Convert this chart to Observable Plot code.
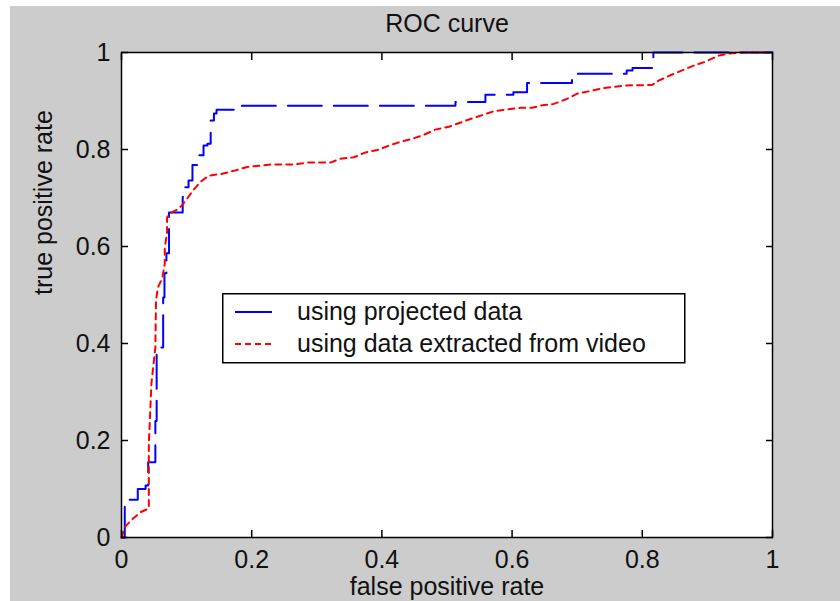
<!DOCTYPE html>
<html>
<head>
<meta charset="utf-8">
<script src="https://cdn.jsdelivr.net/npm/d3@7"></script>
<script src="https://cdn.jsdelivr.net/npm/@observablehq/plot@0.6"></script>
<style>
  html, body { margin: 0; padding: 0; background: #ffffff; overflow: hidden; }
  #wrap { position: relative; width: 840px; height: 601px; overflow: hidden; background: #ffffff; }
  #chart { position: absolute; left: 10px; top: 6px; }
  #legend { position: absolute; left: 222px; top: 293px; }
</style>
</head>
<body>
<div id="wrap">
  <div id="chart"></div>
  <svg id="legend" width="464" height="71"></svg>
</div>
<script>
// ---- data ----
const titleText = "ROC curve";
const xLabel = "false positive rate";
const yLabel = "true positive rate";
const xTicks = [0, 0.2, 0.4, 0.6, 0.8, 1];
const yTicks = [0, 0.2, 0.4, 0.6, 0.8, 1];
const seriesNames = ["using projected data", "using data extracted from video"];
const seriesColors = ["#0000ff", "#ff0000"];

// "using projected data" (step ROC curve)
const fprProjected = [0, 0.005, 0.005, 0.025, 0.025, 0.037, 0.037, 0.041, 0.041, 0.052, 0.052, 0.054, 0.054, 0.064,
  0.064, 0.066, 0.066, 0.069, 0.069, 0.073, 0.073, 0.094, 0.094, 0.098, 0.098, 0.103, 0.103, 0.109, 0.109, 0.119,
  0.119, 0.126, 0.126, 0.132, 0.132, 0.137, 0.137, 0.142, 0.142, 0.146, 0.146, 0.178, 0.178, 0.185, 0.185, 0.513,
  0.513, 0.559, 0.559, 0.602, 0.602, 0.623, 0.623, 0.692, 0.692, 0.697, 0.697, 0.776, 0.776, 0.785, 0.785, 0.817,
  0.817, 1];
const tprProjected = [0, 0, 0.078, 0.078, 0.100, 0.100, 0.107, 0.107, 0.155, 0.155, 0.240, 0.240, 0.392, 0.392,
  0.495, 0.495, 0.545, 0.545, 0.586, 0.586, 0.670, 0.670, 0.702, 0.702, 0.722, 0.722, 0.736, 0.736, 0.768, 0.768,
  0.788, 0.788, 0.808, 0.808, 0.812, 0.812, 0.860, 0.860, 0.874, 0.874, 0.882, 0.882, 0.886, 0.886, 0.890, 0.890,
  0.898, 0.898, 0.913, 0.913, 0.918, 0.918, 0.937, 0.937, 0.946, 0.946, 0.956, 0.956, 0.963, 0.963, 0.968, 0.968,
  1.0, 1.0];

// "using data extracted from video"
const fprVideo = [0, 0.006, 0.016, 0.029, 0.042, 0.042, 0.046, 0.052, 0.053, 0.056, 0.0625, 0.0665, 0.0665, 0.070,
  0.070, 0.075, 0.0856, 0.093, 0.101, 0.1095, 0.121, 0.134, 0.155, 0.1725, 0.193, 0.229, 0.265, 0.285, 0.321, 0.336,
  0.357, 0.375, 0.393, 0.411, 0.429, 0.4465, 0.464, 0.482, 0.503, 0.536, 0.5565, 0.572, 0.613, 0.631, 0.646, 0.664,
  0.682, 0.700, 0.718, 0.738, 0.756, 0.772, 0.815, 0.825, 0.843, 0.861, 0.879, 0.897, 0.918, 0.935, 0.951, 1];
const tprVideo = [0, 0.023, 0.037, 0.052, 0.060, 0.194, 0.318, 0.392, 0.489, 0.516, 0.534, 0.565, 0.599, 0.627,
  0.660, 0.669, 0.676, 0.685, 0.699, 0.715, 0.733, 0.746, 0.750, 0.756, 0.764, 0.769, 0.769, 0.773, 0.773, 0.781,
  0.784, 0.794, 0.799, 0.808, 0.816, 0.822, 0.830, 0.841, 0.847, 0.863, 0.872, 0.879, 0.886, 0.886, 0.891, 0.894,
  0.903, 0.915, 0.920, 0.926, 0.929, 0.932, 0.933, 0.942, 0.953, 0.963, 0.973, 0.981, 0.994, 0.998, 1.0, 1.0];

// ---- build tables ----
const projected = fprProjected.map((x, i) => ({fpr: x, tpr: tprProjected[i]}));
const video = fprVideo.map((x, i) => ({fpr: x, tpr: tprVideo[i]}));

const FONT = "'Liberation Sans', Arial, Helvetica, sans-serif";

const chart = Plot.plot({
  width: 830,
  height: 595,
  marginLeft: 111,
  marginRight: 68,
  marginTop: 46,
  marginBottom: 64,
  style: {background: "#cccccc", fontFamily: FONT, fontSize: "25px", color: "#000", overflow: "visible"},
  x: {domain: [0, 1]},
  y: {domain: [0, 1]},
  marks: [
    Plot.frame({fill: "#ffffff"}),
    Plot.line(projected, {x: "fpr", y: "tpr", stroke: seriesColors[0], strokeWidth: 2, strokeDasharray: "34,12", curve: "linear"}),
    Plot.line(video, {x: "fpr", y: "tpr", stroke: seriesColors[1], strokeWidth: 2, strokeDasharray: "6,5", curve: "linear"}),
    Plot.frame({stroke: "#000", strokeWidth: 1.5}),
    // inward ticks on all four sides
    Plot.axisX({anchor: "bottom", ticks: xTicks, tickSize: -7, tickFormat: () => "", label: null, stroke: "#000", strokeWidth: 1.5}),
    Plot.axisX({anchor: "top", ticks: xTicks, tickSize: -7, tickFormat: () => "", label: null, stroke: "#000", strokeWidth: 1.5}),
    Plot.axisY({anchor: "left", ticks: yTicks, tickSize: -7, tickFormat: () => "", label: null, stroke: "#000", strokeWidth: 1.5}),
    Plot.axisY({anchor: "right", ticks: yTicks, tickSize: -7, tickFormat: () => "", label: null, stroke: "#000", strokeWidth: 1.5}),
    // tick labels
    Plot.axisX({anchor: "bottom", ticks: xTicks, tickSize: 0, tickPadding: 13, tickFormat: d => String(d), label: null, fill: "#111", fontSize: 25}),
    Plot.axisY({anchor: "left", ticks: yTicks, tickSize: 0, tickPadding: 11, tickFormat: d => String(d), label: null, fill: "#111", fontSize: 25}),
    // title and axis labels
    Plot.text([titleText], {frameAnchor: "top", dy: -29, lineAnchor: "middle", fontSize: 25, fill: "#111"}),
    Plot.text([xLabel], {frameAnchor: "bottom", dy: 49, lineAnchor: "middle", fontSize: 25, fill: "#111"}),
    Plot.text([yLabel], {frameAnchor: "left", dx: -78, rotate: -90, lineAnchor: "middle", fontSize: 25, fill: "#111"})
  ]
});
document.getElementById("chart").appendChild(chart);

// ---- legend box ----
const lg = d3.select("#legend");
lg.append("rect").attr("x", 0.75).attr("y", 0.75).attr("width", 462).attr("height", 69)
  .attr("fill", "#fff").attr("stroke", "#000").attr("stroke-width", 1.5);
const legendDash = [null, "6,4"];
seriesNames.forEach((name, i) => {
  const cy = 19 + i * 32;
  lg.append("line").attr("x1", 13).attr("x2", 50).attr("y1", cy).attr("y2", cy)
    .attr("stroke", seriesColors[i]).attr("stroke-width", 2)
    .attr("stroke-dasharray", legendDash[i]);
  lg.append("text").attr("x", 75).attr("y", cy + 8).attr("font-family", FONT)
    .attr("font-size", 25).attr("fill", "#111").text(name);
});
</script>
</body>
</html>
